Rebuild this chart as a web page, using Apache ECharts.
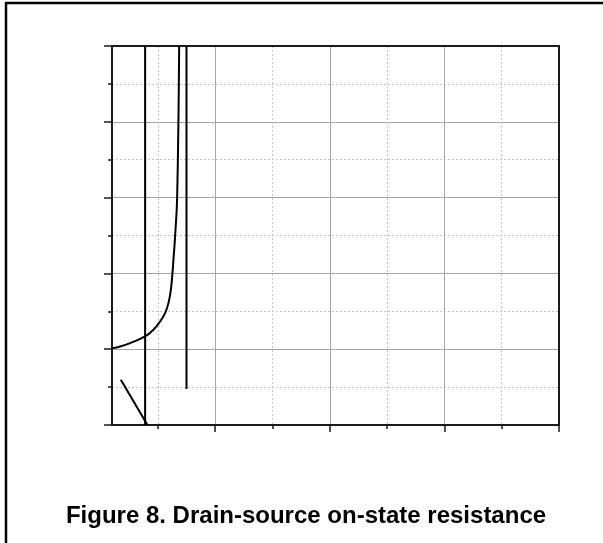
<!DOCTYPE html>
<html>
<head>
<meta charset="utf-8">
<script src="https://cdn.jsdelivr.net/npm/echarts@6/dist/echarts.min.js"></script>
<style>
html,body{margin:0;padding:0;background:#fff;}
#c{width:603px;height:543px;}
</style>
</head>
<body>
<div id="c"></div>
<script>
// Data (x in axis units, y in axis units)
const curveX = [0.202, 0.342, 0.517, 0.778, 0.923, 1.040, 1.127, 1.185, 1.227, 1.255, 1.272, 1.297, 1.337, 1.372];
const curveY = [1.012, 1.036, 1.081, 1.168, 1.256, 1.366, 1.476, 1.608, 1.784, 2.004, 2.179, 2.443, 3.010, 5.0];
const vline1X = [0.778, 0.778];
const vline1Y = [0, 5];
const diagX = [0.354, 0.819];
const diagY = [0.597, 0];
const vline2X = [1.5, 1.5];
const vline2Y = [5, 0.475];
const xMajorTicks = [2, 4, 6, 8];
const xMinorTicks = [1, 3, 5, 7];
const titleText = 'Figure 8. Drain-source on-state resistance';

const zip = (xs, ys) => xs.map((x, i) => [x, ys[i]]);
const frameColor = '#1a1a1a';
const lineStyleCurve = { color: '#000', width: 2 };

const chart = echarts.init(document.getElementById('c'), null, { renderer: 'canvas' });
chart.setOption({
  animation: false,
  backgroundColor: '#fff',
  grid: { left: 112, top: 46, right: 44, bottom: 118, containLabel: false },
  xAxis: [
    {
      type: 'value', position: 'bottom', min: 0.2, max: 8,
      axisLine: { show: true, lineStyle: { color: frameColor, width: 2 } },
      axisTick: { show: true, customValues: xMajorTicks, length: 7, inside: false, lineStyle: { color: frameColor, width: 1.5 } },
      axisLabel: { show: false },
      splitLine: { show: true, lineStyle: { color: '#a6a6a6', width: 1 } }
    },
    {
      type: 'value', position: 'bottom', min: 0.2, max: 8,
      axisLine: { show: false },
      axisTick: { show: true, customValues: xMinorTicks, length: 4, inside: false, lineStyle: { color: frameColor, width: 1.5 } },
      axisLabel: { show: false },
      splitLine: { show: true, lineStyle: { color: '#c8c8c8', width: 1, type: [2, 2] } }
    },
    {
      type: 'value', position: 'top', min: 0.2, max: 8,
      axisLine: { show: true, lineStyle: { color: frameColor, width: 2 } },
      axisTick: { show: false }, axisLabel: { show: false }, splitLine: { show: false }
    }
  ],
  yAxis: [
    {
      type: 'value', position: 'left', min: 0, max: 5, interval: 1,
      axisLine: { show: true, lineStyle: { color: frameColor, width: 2 } },
      axisTick: { show: true, length: 8, inside: false, lineStyle: { color: frameColor, width: 1.5 } },
      minorTick: { show: true, splitNumber: 2, length: 4, lineStyle: { color: frameColor, width: 1.5 } },
      axisLabel: { show: false },
      splitLine: { show: true, lineStyle: { color: '#a6a6a6', width: 1 } },
      minorSplitLine: { show: true, lineStyle: { color: '#c8c8c8', width: 1, type: [2, 2] } }
    },
    {
      type: 'value', position: 'right', min: 0, max: 5,
      axisLine: { show: true, lineStyle: { color: frameColor, width: 2 } },
      axisTick: { show: false }, axisLabel: { show: false }, splitLine: { show: false }
    }
  ],
  series: [
    { type: 'line', data: zip(curveX, curveY), smooth: 0.4, showSymbol: false, lineStyle: lineStyleCurve, xAxisIndex: 0, yAxisIndex: 0, z: 5 },
    { type: 'line', data: zip(vline1X, vline1Y), showSymbol: false, lineStyle: lineStyleCurve, xAxisIndex: 0, yAxisIndex: 0, z: 5 },
    { type: 'line', data: zip(diagX, diagY), showSymbol: false, lineStyle: lineStyleCurve, xAxisIndex: 0, yAxisIndex: 0, z: 5 },
    { type: 'line', data: zip(vline2X, vline2Y), showSymbol: false, lineStyle: lineStyleCurve, xAxisIndex: 0, yAxisIndex: 0, z: 5 }
  ],
  graphic: [
    { type: 'line', shape: { x1: 5, y1: 3, x2: 603, y2: 3 }, style: { stroke: '#000', lineWidth: 2.5 } },
    { type: 'line', shape: { x1: 6, y1: 2, x2: 6, y2: 543 }, style: { stroke: '#000', lineWidth: 2.5 } },
    { type: 'text', x: 306, y: 516.5, style: { text: titleText, font: 'bold 24px "Liberation Sans", Arial, sans-serif', fill: '#000', textAlign: 'center', textVerticalAlign: 'middle' } }
  ]
});
</script>
</body>
</html>
